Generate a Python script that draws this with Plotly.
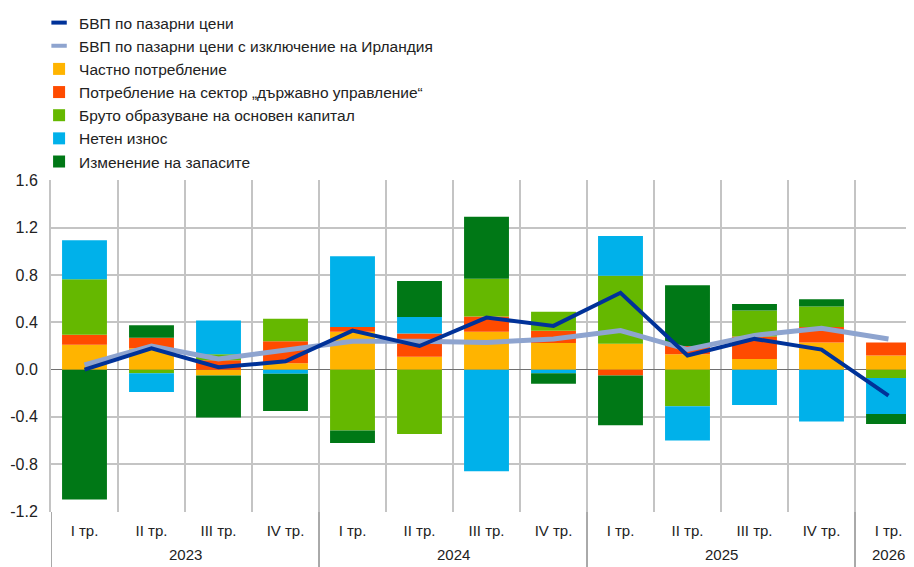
import plotly.graph_objects as go

# quarters and years along the x axis
years = ["2023"] * 4 + ["2024"] * 4 + ["2025"] * 4 + ["2026"]
quarters = ["I тр.", "II тр.", "III тр.", "IV тр."] * 3 + ["I тр."]

# contributions, percentage points
private_cons = [0.21, 0.18, -0.05, 0.055, 0.32, 0.11, 0.32, 0.225, 0.22, 0.13, 0.09, 0.23, 0.12]
gov_cons = [0.085, 0.09, 0.08, 0.185, 0.04, 0.195, 0.13, 0.105, -0.05, 0.07, 0.19, 0.13, 0.11]
gfcf = [0.47, -0.03, 0.05, 0.19, -0.515, -0.545, 0.32, 0.16, 0.575, -0.31, 0.22, 0.175, -0.07]
net_exports = [0.33, -0.16, 0.285, -0.035, 0.6, 0.14, -0.86, -0.03, 0.335, -0.29, -0.3, -0.44, -0.305]
inventories = [-1.1, 0.105, -0.355, -0.315, -0.105, 0.305, 0.525, -0.09, -0.42, 0.515, 0.055, 0.06, -0.085]

gdp = [0.0, 0.18, 0.02, 0.07, 0.33, 0.2, 0.44, 0.37, 0.65, 0.12, 0.26, 0.17, -0.22]
gdp_ex_ie = [0.04, 0.2, 0.09, 0.17, 0.24, 0.24, 0.23, 0.26, 0.33, 0.17, 0.29, 0.35, 0.26]

y_ticks = [-1.2, -0.8, -0.4, 0.0, 0.4, 0.8, 1.2, 1.6]

FONT = "Liberation Sans"
GRID = "#c4c4c4"
pos = list(range(len(quarters)))

fig = go.Figure()

bars = [
    ("Частно потребление", private_cons, "#ffb400"),
    ("Потребление на сектор „държавно управление“", gov_cons, "#ff4b00"),
    ("Бруто образуване на основен капитал", gfcf, "#65b800"),
    ("Нетен износ", net_exports, "#00b1ea"),
    ("Изменение на запасите", inventories, "#007816"),
]
for i, (name, vals, color) in enumerate(bars):
    fig.add_trace(go.Bar(
        x=pos, y=vals, name=name, marker_color=color,
        marker_line_width=0, legendrank=10 + i,
    ))

lines = [
    ("БВП по пазарни цени", gdp, "#003299", 4, 1),
    ("БВП по пазарни цени с изключение на Ирландия", gdp_ex_ie, "#8ea4cf", 5, 2),
]
# light line is drawn over the dark one
for name, vals, color, width, rank in lines[::-1]:
    fig.add_trace(go.Scatter(
        x=pos, y=vals, mode="lines", line=dict(color=color, width=width),
        showlegend=False,
    ))
for name, vals, color, width, rank in lines:
    # short legend keys
    fig.add_trace(go.Scatter(
        x=[None], y=[None], mode="markers", name=name, legendrank=rank,
        marker=dict(symbol="line-ew", size=11, line=dict(color=color, width=4)),
    ))

# year labels under each group and dividers between groups
for year in dict.fromkeys(years):
    idx = [i for i, y in enumerate(years) if y == year]
    fig.add_annotation(
        x=sum(idx) / len(idx), y=-0.1295, xref="x", yref="paper",
        text=year, showarrow=False, yanchor="middle",
        font=dict(size=15, color="#222222"),
    )
    fig.add_shape(
        type="line", xref="x", yref="paper",
        x0=idx[0] - 0.5, x1=idx[0] - 0.5, y0=0, y1=-0.25,
        line=dict(color="#555555", width=1),
    )

fig.update_layout(
    width=914, height=567,
    margin=dict(l=43, r=0, t=172, b=63, autoexpand=False),
    barmode="relative", bargap=0.33,
    plot_bgcolor="white", paper_bgcolor="white",
    font=dict(family=FONT, size=16, color="#222222"),
    legend=dict(
        x=0.034, y=1.524, xref="container", yref="paper",
        xanchor="left", yanchor="top",
        font=dict(size=15.5), traceorder="normal",
    ),
)
fig.update_xaxes(
    range=[-0.5, len(pos) - 0.5], tickvals=pos, ticktext=quarters,
    showgrid=False, zeroline=False, ticks="",
    minor=dict(tickvals=[p - 0.5 for p in pos], showgrid=True,
               gridcolor=GRID, gridwidth=2, ticks=""),
    tickfont=dict(size=15), tickangle=0, ticklabelstandoff=8,
)
fig.update_yaxes(
    range=[-1.205, 1.605], tickvals=y_ticks, ticktext=[f"{v:.1f}" for v in y_ticks],
    showgrid=True, gridcolor=GRID, gridwidth=2,
    showline=True, linecolor=GRID, linewidth=2,
    zeroline=True, zerolinecolor="#707070", zerolinewidth=1,
    tickfont=dict(size=16), ticklabelstandoff=8,
)

fig.write_html("out.html")
